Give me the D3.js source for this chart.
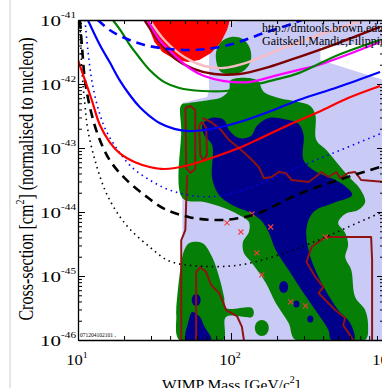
<!DOCTYPE html>
<html>
<head>
<meta charset="utf-8">
<script src="https://cdn.jsdelivr.net/npm/d3@7"></script>
<style>
  body { margin: 0; background: #fff; }
  svg { display: block; }
  text { font-family: "Liberation Serif", "DejaVu Serif", serif; fill: #000; }
</style>
</head>
<body>
<svg id="chart" width="382" height="388"></svg>
<script>
// axis ticks
const massMajor = [10, 100, 1000];
const massExponents = ['1', '2', '3'];
const sigmaMajor = [1e-41, 1e-42, 1e-43, 1e-44, 1e-45, 1e-46];
const sigmaExponents = ['-41', '-42', '-43', '-44', '-45', '-46'];

// exclusion limits [mass GeV, cross-section cm^2]
const limitBlue = [[11.6, 1e-41], [13.9, 4.07e-42], [16.1, 2.2e-42], [18.7, 1.15e-42], [21.8, 6.73e-43], [25.3, 4.37e-43], [29.4, 3.16e-43], [34.1, 2.46e-43], [42.6, 1.99e-43], [53.4, 1.84e-43], [66.8, 1.91e-43], [97.1, 2.29e-43], [130.9, 2.84e-43], [190, 3.93e-43], [277, 5.62e-43], [502, 8.97e-43], [942, 1.54e-42]];
const limitRed = [[10, 2.37e-42], [11.1, 1.15e-42], [12.3, 5.62e-43], [13.9, 2.29e-43], [16.1, 1.24e-43], [18.7, 8.3e-44], [23.4, 6.04e-44], [29.4, 5.05e-44], [36.7, 4.7e-44], [53.4, 5.42e-44], [77.6, 7.23e-44], [112.7, 1e-43], [152, 1.38e-43], [238, 2.29e-43], [373, 3.65e-43], [583, 6.04e-43], [942, 9.31e-43]];
const limitGreen = [[16.9, 1e-41], [19.3, 6.49e-42], [21.8, 4.07e-42], [25.3, 2.55e-42], [29.4, 1.66e-42], [36.7, 1.07e-42], [45.9, 8.66e-43], [64.9, 7.78e-43], [92.8, 7.78e-43], [130.9, 9.31e-43], [190, 1.15e-42], [277, 1.48e-42], [502, 2.84e-42], [942, 4.87e-42]];
const limitMagenta = [[28.5, 1e-41], [34.1, 4.87e-42], [42.6, 2.84e-42], [53.4, 1.78e-42], [66.8, 1.33e-42], [90.1, 1.11e-42], [130.9, 1.07e-42], [190, 1.33e-42], [277, 1.66e-42], [373, 1.98e-42], [942, 4.53e-42]];
const limitMaroon = [[27.2, 1e-41], [34.1, 4.53e-42], [42.6, 2.55e-42], [57.5, 1.71e-42], [77.6, 1.43e-42], [112.7, 1.43e-42], [176, 1.84e-42], [277, 2.64e-42], [502, 4.37e-42], [942, 7.78e-42]];
const limitPink = [[29.4, 1e-41], [36.7, 4.87e-42], [49.5, 2.64e-42], [66.8, 1.91e-42], [90.1, 1.78e-42], [130.9, 2.21e-42], [205, 3.4e-42], [373, 5.83e-42], [731, 1e-41]];
const projBlueDash = [[13.5, 1e-41], [16.1, 6.98e-42], [20.2, 5.23e-42], [27.2, 4.07e-42], [39.6, 3.52e-42], [57.5, 3.4e-42], [77.6, 3.65e-42], [112.7, 4.53e-42], [164, 6.26e-42], [238, 8.35e-42], [289, 1e-41]];
const projBlackDash = [[10.3, 1e-41], [10.6, 4.07e-42], [11.1, 1.15e-42], [12.0, 4.22e-43], [13.5, 1.6e-43], [16.1, 6.49e-44], [20.2, 3.38e-44], [27.2, 1.84e-44], [36.7, 1.12e-44], [53.4, 8.3e-45], [77.6, 7.5e-45], [104.5, 7.78e-45], [152, 9.65e-45], [277, 1.91e-44], [502, 3.16e-44], [942, 5.05e-44]];
const projBlueDot = [[11.1, 1e-41], [11.6, 3.4e-42], [12.3, 1.15e-42], [13.5, 4.22e-43], [15.2, 1.91e-43], [18.2, 9.31e-44], [22.4, 5.05e-44], [29.4, 3.16e-44], [39.6, 2.21e-44], [57.5, 1.78e-44], [83.6, 1.78e-44], [130.9, 2.37e-44], [205, 3.65e-44], [289, 5.23e-44], [502, 8.97e-44], [942, 1.66e-43]];
const projBlackDot = [[10.3, 1e-41], [10.6, 1.66e-42], [11.1, 4.7e-43], [11.6, 1.91e-43], [12.9, 6.49e-44], [15.0, 2.21e-44], [17.9, 1e-44], [21.8, 5.42e-45], [29.4, 2.84e-45], [39.6, 1.71e-45], [62.0, 1.43e-45], [112.7, 1.48e-45], [205, 2.13e-45], [373, 3.65e-45], [583, 5.83e-45], [942, 9.65e-45]];

// excluded (filled) region
const filledRed = [[28.5, 1e-41], [29.4, 6.98e-42], [31.6, 4.53e-42], [35.6, 3.16e-42], [42.6, 2.46e-42], [51.8, 2.21e-42], [62.0, 2.37e-42], [74.1, 3.05e-42], [86.1, 4.53e-42], [94.1, 6.98e-42], [98.5, 1e-41]];

// theory regions
const regionLavender = [[71.9, 7.5e-42], [104.5, 9.31e-42], [130.9, 1e-41], [1000, 1e-41], [1000, 1e-46], [48.1, 1e-46], [48.1, 5.05e-43], [57.5, 5.62e-43], [69.8, 6.26e-43], [71.9, 8.06e-43]];
const regionBlank = [[384, 3.79e-42], [1000, 4.53e-42], [1000, 1.15e-42], [384, 2.37e-42]];
const regionGreenTop = [[81.1, 1.98e-42], [79.9, 3.16e-42], [86.1, 4.53e-42], [100, 5.42e-42], [119.7, 5.05e-42], [132.8, 3.65e-42], [134.9, 2.37e-42], [123.3, 1.66e-42], [101.5, 1.43e-42], [86.1, 1.54e-42]];
const regionGreenMain = [[100, 1.15e-42], [147.5, 1.15e-42], [164, 7.5e-43], [205, 6.04e-43], [277, 5.23e-43], [330, 4.53e-43], [356, 3.28e-43], [361, 1.33e-43], [420, 9.31e-44], [488, 6.04e-44], [583, 3.65e-44], [698, 2.29e-44], [753, 1.43e-44], [678, 1.07e-44], [558, 9.31e-45], [502, 6.76e-45], [558, 4.7e-45], [583, 3.05e-45], [558, 1.98e-45], [611, 1.24e-45], [648, 4.7e-46], [753, 2.94e-46], [787, 1.6e-46], [753, 1e-46], [264, 1e-46], [238, 1.84e-46], [196, 3.8e-46], [169, 7.78e-46], [137, 1.6e-45], [121.4, 2.29e-45], [119.7, 3.4e-45], [130.9, 4.87e-45], [130.9, 6.98e-45], [112.7, 8.97e-45], [90.1, 1.15e-44], [66.8, 1.43e-44], [48.1, 1.66e-44], [47.3, 1.91e-43], [47.3, 4.7e-43], [53.4, 5.05e-43], [71.9, 5.62e-43], [87.4, 6.26e-43], [97.1, 8.06e-43]];
const regionGreenLow = [[53.4, 3.28e-45], [64.9, 3.28e-45], [75.3, 1.98e-45], [83.6, 9.65e-46], [90.1, 4.7e-46], [92.8, 3.16e-46], [137, 3.16e-46], [141, 2.64e-46], [137, 2.29e-46], [92.8, 2.29e-46], [88.7, 1e-46], [45.9, 1e-46], [43.9, 2.37e-46], [43.9, 3.05e-46], [47.3, 1.6e-45], [49.5, 2.55e-45]];
const regionNavyMain = [[64.9, 2.29e-43], [74.1, 2.94e-43], [90.1, 2.74e-43], [97.1, 1.91e-43], [112.7, 1.43e-43], [134.9, 1.54e-43], [147.5, 2.21e-43], [176, 2.94e-43], [221, 2.84e-43], [277, 2.37e-43], [298, 1.6e-43], [298, 6.49e-44], [361, 4.22e-44], [466, 3.28e-44], [566, 2.46e-44], [620, 1.84e-44], [466, 1.38e-44], [346, 1e-44], [311.5, 5.62e-45], [321, 2.55e-45], [356, 1.24e-45], [414, 6.04e-46], [502, 2.94e-46], [601, 1.84e-46], [638, 1e-46], [453, 1e-46], [433, 1.43e-46], [356, 2.94e-46], [289, 6.04e-46], [238, 1.24e-45], [196, 2.55e-45], [176, 4.87e-45], [156.6, 7.5e-45], [130.9, 1e-44], [101.5, 1.29e-44], [83.6, 1.84e-44], [75.3, 3.38e-44], [75.3, 1.11e-43], [66.8, 1.6e-43]];
const regionNavyLow = [[55.8, 2.74e-46], [62.0, 2.37e-46], [66.8, 1.65e-46], [74.1, 1e-46], [51.0, 1e-46], [52.6, 1.91e-46]];
const navyBlobs = [[59.2, 4.22e-46], [221, 6.73e-46], [268, 3.65e-46], [330, 2.13e-46]];
const greenBlobs = [[159, 1.54e-46]];

// likelihood contours
const contourLeft = [[51.8, 3.78e-44], [51.0, 1.54e-44], [50.3, 5.23e-45], [47.3, 3.65e-45], [47.3, 1e-46]];
const contourLoopA = [[50.3, 4.22e-43], [51.0, 4.87e-44], [54.2, 4.07e-44], [58.4, 4.7e-44], [58.4, 3.93e-43], [54.2, 4.53e-43], [50.3, 4.22e-43]];
const contourLoopB = [[62.0, 2.29e-43], [62.9, 7.78e-44], [65.8, 6.49e-44], [69.8, 7.78e-44], [68.8, 2.05e-43], [64.9, 2.55e-43], [62.0, 2.29e-43]];
const contourBig = [[64.9, 2.94e-43], [74.1, 2.55e-43], [86.1, 1.91e-43], [97.1, 1.33e-43], [112.7, 1e-43], [130.9, 7.23e-44], [152, 5.05e-44], [164, 3.38e-44], [184.6, 3.52e-44], [205, 4.22e-44], [227.5, 4.07e-44], [249, 3.16e-44], [321, 2.94e-44], [356, 3.52e-44], [390, 4.22e-44], [433, 3.52e-44], [488, 4.22e-44], [518, 3.38e-44], [583, 4.07e-44], [648, 4.22e-44], [709, 3.16e-44], [1000, 2.94e-44]];
const contourColumn = [[59.2, 1e-46], [59.2, 1.15e-45], [62.9, 1.38e-45], [68.8, 1.15e-45], [74.1, 7.23e-46], [83.6, 5.42e-46], [88.7, 3.93e-46], [92.8, 2.94e-46], [109.4, 2.37e-46], [117.9, 1.6e-46], [121.4, 1e-46]];
const contourRight = [[629, 1e-46], [541, 1.71e-46], [558, 2.21e-46], [480, 2.94e-46], [373, 5.42e-46], [402, 6.73e-46], [356, 9.65e-46], [311.5, 1.66e-45], [336, 2.84e-45], [414, 4.07e-45], [558, 4.07e-45], [824, 4.07e-45], [836, 1.78e-45], [836, 1e-46]];

// model points
const crossMarks = [[94.1, 6.76e-45], [116.1, 4.87e-45], [137, 9.31e-45], [181.8, 5.83e-45], [147.5, 2.29e-45], [159, 1.04e-45], [245.5, 3.93e-46], [306.8, 3.4e-46], [414, 4.07e-45]];

const svg = d3.select('#chart');
const plotLeft = 78, plotRight = 384, plotTop = 20, plotBottom = 340;
const x = d3.scaleLog().domain([10, 1000]).range([plotLeft, plotRight]);
const y = d3.scaleLog().domain([1e-46, 1e-41]).range([plotBottom, plotTop]);

// frame of the screenshot
svg.append('line').attr('x1', 10).attr('x2', 10).attr('y1', 0).attr('y2', 388)
    .attr('stroke', '#cfcfcf').attr('stroke-width', 1);

svg.append('clipPath').attr('id', 'plot-clip')
    .append('rect').attr('x', plotLeft).attr('y', plotTop)
    .attr('width', plotRight - plotLeft).attr('height', plotBottom - plotTop);

const plot = svg.append('g').attr('clip-path', 'url(#plot-clip)');

const straight = d3.line().x(d => x(d[0])).y(d => y(d[1]));
const straightClosed = d3.line().x(d => x(d[0])).y(d => y(d[1])).curve(d3.curveLinearClosed);
const roundClosed = d3.line().x(d => x(d[0])).y(d => y(d[1])).curve(d3.curveCatmullRomClosed.alpha(0.5));
const smooth = d3.line().x(d => x(d[0])).y(d => y(d[1])).curve(d3.curveCatmullRom.alpha(0.5));

plot.append('path').attr('d', straightClosed(regionLavender)).attr('fill', '#cacaf6');
plot.append('path').attr('d', straightClosed(regionBlank)).attr('fill', '#fff');

[regionGreenTop, regionGreenMain, regionGreenLow].forEach(r => {
    plot.append('path').attr('d', roundClosed(r)).attr('fill', '#067f06');
});
plot.selectAll('.green-blob').data(greenBlobs).enter().append('ellipse')
    .attr('class', 'green-blob')
    .attr('cx', d => x(d[0])).attr('cy', d => y(d[1]))
    .attr('rx', 7).attr('ry', 8).attr('fill', '#067f06');

[regionNavyMain, regionNavyLow].forEach(r => {
    plot.append('path').attr('d', roundClosed(r)).attr('fill', '#00008a');
});
plot.selectAll('.navy-blob').data(navyBlobs).enter().append('ellipse')
    .attr('class', 'navy-blob')
    .attr('cx', d => x(d[0])).attr('cy', d => y(d[1]))
    .attr('rx', (d, i) => i < 2 ? 4.5 : 3).attr('ry', (d, i) => i < 2 ? 6 : 3.5)
    .attr('fill', '#00008a');

[contourLeft, contourLoopA, contourLoopB, contourBig, contourColumn, contourRight].forEach(c => {
    plot.append('path').attr('d', straight(c))
        .attr('fill', 'none').attr('stroke', '#8e1414').attr('stroke-width', 2)
        .attr('stroke-linejoin', 'round');
});

const marks = plot.selectAll('.mark').data(crossMarks).enter().append('g')
    .attr('class', 'mark')
    .attr('transform', d => `translate(${x(d[0])},${y(d[1])})`);
marks.append('path').attr('d', 'M-2.5,-2.5L2.5,2.5M-2.5,2.5L2.5,-2.5')
    .attr('stroke', '#f0403a').attr('stroke-width', 1.1);

plot.append('path').attr('d', straightClosed(filledRed)).attr('fill', '#ff0000');

// limit curves
const curves = [
    {data: projBlackDot, color: '#000', width: 1.6, dash: '1.5,4'},
    {data: projBlueDot, color: '#0000ff', width: 1.6, dash: '1.5,4'},
    {data: projBlackDash, color: '#000', width: 2.6, dash: '9,6'},
    {data: limitPink, color: '#f7bcc4', width: 2.4},
    {data: limitMaroon, color: '#7c0000', width: 2.4},
    {data: limitMagenta, color: '#ff00ff', width: 2.2},
    {data: limitGreen, color: '#008000', width: 2.2},
    {data: limitRed, color: '#ff0000', width: 2.2},
    {data: limitBlue, color: '#0000ff', width: 2.2},
    {data: projBlueDash, color: '#0000ff', width: 2.6, dash: '9,6'}
];
curves.forEach(c => {
    plot.append('path').attr('d', smooth(c.data))
        .attr('fill', 'none').attr('stroke', c.color).attr('stroke-width', c.width)
        .attr('stroke-dasharray', c.dash || null);
});

// axes, ticks pointing inwards
const isMajor = v => Math.abs(Math.log10(v) - Math.round(Math.log10(v))) < 1e-6;
const xTicks = x.ticks();
const yTicks = y.ticks();

const axisStyle = g => {
    g.select('.domain').attr('stroke', '#000').attr('stroke-width', 1.3);
    g.selectAll('.tick text').remove();
    g.selectAll('.tick line').attr('stroke', '#000').attr('stroke-width', 1);
};

svg.append('g').attr('transform', `translate(0,${plotBottom})`)
    .call(d3.axisBottom(x).tickValues(xTicks).tickSizeOuter(0).tickFormat(''))
    .call(axisStyle)
    .selectAll('.tick line').attr('y2', d => isMajor(d) ? -7 : -4);
svg.append('g').attr('transform', `translate(0,${plotTop})`)
    .call(d3.axisTop(x).tickValues(xTicks).tickSizeOuter(0).tickFormat(''))
    .call(axisStyle)
    .selectAll('.tick line').attr('y2', d => isMajor(d) ? 7 : 4);
svg.append('g').attr('transform', `translate(${plotLeft},0)`)
    .call(d3.axisLeft(y).tickValues(yTicks).tickSizeOuter(0).tickFormat(''))
    .call(axisStyle)
    .selectAll('.tick line').attr('x2', d => isMajor(d) ? 7 : 4);
svg.append('g').attr('transform', `translate(${plotRight},0)`)
    .call(d3.axisRight(y).tickValues(yTicks).tickSizeOuter(0).tickFormat(''))
    .call(axisStyle)
    .selectAll('.tick line').attr('x2', d => isMajor(d) ? -7 : -4);

// tick labels
massMajor.forEach((m, i) => {
    const t = svg.append('text')
        .attr('transform', `translate(${x(m) - 1},365) scale(1.1,1)`)
        .attr('text-anchor', 'middle').attr('font-size', 15);
    t.append('tspan').text('10');
    t.append('tspan').attr('dy', -7).attr('font-size', 9).text(massExponents[i]);
});
sigmaMajor.forEach((s, i) => {
    const t = svg.append('text')
        .attr('transform', `translate(76,${y(s) + 6}) scale(1.4,1)`)
        .attr('text-anchor', 'end').attr('font-size', 15);
    t.append('tspan').text('10');
    t.append('tspan').attr('dy', -8).attr('font-size', 8).text(sigmaExponents[i]);
});

// axis titles
const xTitle = svg.append('text')
    .attr('x', 231).attr('y', 390)
    .attr('text-anchor', 'middle').attr('font-size', 15.5);
xTitle.append('tspan').text('WIMP Mass [GeV/c');
xTitle.append('tspan').attr('dy', -7).attr('font-size', 10).text('2');
xTitle.append('tspan').attr('dy', 7).text(']');

const yTitle = svg.append('text')
    .attr('transform', 'translate(33,179) scale(1.25,1) rotate(-90)')
    .attr('text-anchor', 'middle').attr('font-size', 16);
yTitle.append('tspan').text('Cross-section [cm');
yTitle.append('tspan').attr('dy', -7).attr('font-size', 10).text('2');
yTitle.append('tspan').attr('dy', 7).text('] (normalised to nucleon)');

// credits
svg.append('text').attr('x', 262).attr('y', 32).attr('font-size', 12)
    .text('http://dmtools.brown.edu/');
svg.append('text').attr('x', 262).attr('y', 45).attr('font-size', 12)
    .text('Gaitskell,Mandic,Filippini');
svg.append('text').attr('x', 80).attr('y', 337).attr('font-size', 5.5)
    .text('071204102101 ,');
</script>
</body>
</html>
